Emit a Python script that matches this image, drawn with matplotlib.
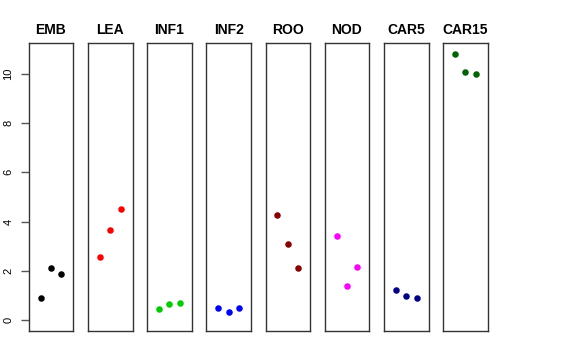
import matplotlib
matplotlib.use('Agg')
import matplotlib.pyplot as plt

tissues = ['EMB', 'LEA', 'INF1', 'INF2', 'ROO', 'NOD', 'CAR5', 'CAR15']
colors = ['black', 'red', '#00CD00', 'blue', '#8B0000', 'magenta', '#00008B', '#006400']
values = [
    [0.89, 2.13, 1.90],
    [2.57, 3.66, 4.52],
    [0.47, 0.66, 0.70],
    [0.50, 0.35, 0.51],
    [4.27, 3.09, 2.11],
    [3.44, 1.39, 2.16],
    [1.24, 0.99, 0.89],
    [10.81, 10.08, 10.00],
]
reps = [1, 2, 3]

W, H = 576, 360
fig = plt.figure(figsize=(W / 100, H / 100), dpi=100)

left0 = 28.7
step = 59.2
pw = 44.6
top = 43.3
bottom = 331.0

for i, (name, col, vals) in enumerate(zip(tissues, colors, values)):
    x0 = left0 + i * step
    ax = fig.add_axes([x0 / W, (H - bottom) / H, pw / W, (bottom - top) / H])
    ax.scatter(reps, vals, s=22, color=col, zorder=3, linewidths=0)
    ax.set_xlim(-0.16, 4.16)
    ax.set_ylim(-0.43, 11.23)
    ax.set_xticks([])
    for sp in ax.spines.values():
        sp.set_color('#333333')
        sp.set_linewidth(1.0)
    ax.set_title(name, fontsize=10, fontweight='bold', pad=6.5,
                 family=['Liberation Sans', 'DejaVu Sans'])
    if i == 0:
        ax.set_yticks([0, 2, 4, 6, 8, 10])
        ax.tick_params(axis='y', length=6, width=1, color='#555555', labelsize=8, pad=5)
        for lab in ax.get_yticklabels():
            lab.set_rotation(90)
            lab.set_va('center')
            lab.set_family(['Liberation Sans', 'DejaVu Sans'])
    else:
        ax.set_yticks([])

fig.savefig('out.png', dpi=100)
